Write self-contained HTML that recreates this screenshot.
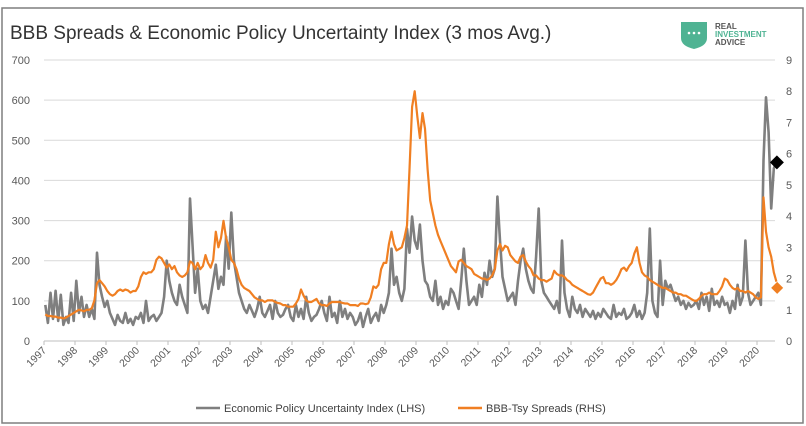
<!DOCTYPE html>
<html><head><meta charset="utf-8"><style>
body{margin:0;background:#fff;}
svg{display:block;font-family:"Liberation Sans",sans-serif;}
</style></head><body>
<svg id="chart" width="806" height="426" viewBox="0 0 806 426">
<rect x="2" y="8" width="801" height="415" fill="none" stroke="#7f7f7f" stroke-width="1.5"/>
<text x="10" y="39" font-size="19" fill="#333">BBB Spreads &amp; Economic Policy Uncertainty Index (3 mos Avg.)</text>
<g>
<path d="M681 22 L707 22 L707 38 Q707 46 694 49 Q681 46 681 38 Z" fill="#4fb393"/>
<circle cx="689" cy="33" r="1.3" fill="#fff"/><circle cx="694" cy="33" r="1.3" fill="#fff"/><circle cx="699" cy="33" r="1.3" fill="#fff"/>
<text x="715" y="29" font-size="8" font-weight="bold" fill="#555">REAL</text>
<text x="715" y="37" font-size="8" font-weight="bold" fill="#4fb393">INVESTMENT</text>
<text x="715" y="45" font-size="8" font-weight="bold" fill="#555">ADVICE</text>
</g>
<g id="grid"></g><g id="axes"></g><g id="series"></g>
<g>
<line x1="196" y1="408" x2="220" y2="408" stroke="#7f7f7f" stroke-width="2.5"/>
<text x="224" y="412" font-size="11" fill="#404040">Economic Policy Uncertainty Index (LHS)</text>
<line x1="458" y1="408" x2="482" y2="408" stroke="#f07f22" stroke-width="2.5"/>
<text x="486" y="412" font-size="11" fill="#404040">BBB-Tsy Spreads (RHS)</text>
</g>
</svg>
<script>
const startYear = 1997;
const yearLabels = ["1997","1998","1999","2000","2001","2002","2003","2004","2005","2006","2007","2008","2009","2010","2011","2012","2013","2014","2015","2016","2017","2018","2019","2020"];
const leftTicks = [0,100,200,300,400,500,600,700];
const rightTicks = [0,1,2,3,4,5,6,7,8,9];
const epu = [
90,45,120,55,125,50,115,40,60,45,120,50,
150,70,110,60,90,60,80,55,220,140,110,85,
100,70,55,40,65,50,45,70,45,55,40,60,
55,70,45,100,50,60,65,50,60,70,110,200,
150,120,100,90,140,110,90,70,355,240,120,180,
100,80,90,70,110,150,190,130,160,140,260,180,
320,200,160,120,100,80,70,90,75,60,80,110,
70,60,75,90,55,100,70,60,65,80,90,60,
50,90,60,80,55,110,70,50,60,65,80,100,
70,50,110,60,70,45,100,60,80,55,70,60,
40,50,70,35,60,80,45,60,70,50,90,70,
90,120,230,140,160,120,100,130,280,220,310,250,
230,290,200,150,140,110,100,150,90,110,80,100,
90,130,120,100,80,150,230,150,90,100,110,90,
140,110,170,140,200,160,180,360,250,160,130,100,
110,120,90,150,200,230,180,150,130,120,210,330,
150,120,110,100,90,80,100,70,250,120,80,60,
110,80,70,90,60,80,70,60,75,55,70,60,
80,70,60,55,90,60,70,65,80,55,60,70,
90,60,75,55,70,120,280,100,70,60,200,90,
150,130,140,120,100,110,90,100,80,95,85,90,
100,80,120,90,110,75,130,90,100,85,110,90,
95,70,100,80,140,90,110,250,120,90,100,110,
120,90,450,607,520,330,430,445];
const spread = [
0.85,0.8,0.8,0.78,0.78,0.75,0.75,0.72,0.75,0.8,0.85,0.9,
0.95,1.0,0.98,0.95,1.0,1.0,1.05,1.3,1.85,1.95,1.85,1.75,
1.6,1.5,1.45,1.5,1.6,1.65,1.6,1.65,1.62,1.55,1.6,1.6,
1.75,2.05,2.2,2.15,2.2,2.2,2.3,2.6,2.7,2.65,2.5,2.35,
2.45,2.3,2.4,2.2,2.1,2.05,2.1,2.2,2.55,2.5,2.3,2.5,
2.3,2.4,2.75,2.5,2.35,2.6,3.5,3.0,3.3,3.85,3.3,3.0,
2.6,2.5,2.3,2.0,1.8,1.7,1.65,1.6,1.5,1.4,1.35,1.3,
1.3,1.25,1.3,1.3,1.3,1.25,1.22,1.2,1.15,1.15,1.1,1.1,
1.1,1.2,1.35,1.65,1.45,1.3,1.25,1.25,1.3,1.35,1.2,1.15,
1.15,1.12,1.2,1.25,1.25,1.25,1.25,1.22,1.2,1.2,1.15,1.15,
1.15,1.12,1.2,1.2,1.18,1.2,1.4,1.75,1.7,1.8,2.3,2.5,
2.5,3.1,3.5,3.1,2.9,2.95,3.0,3.3,3.7,5.5,7.5,8.0,
7.2,6.5,7.3,6.8,5.5,4.5,4.1,3.7,3.4,3.2,3.0,2.8,
2.6,2.4,2.3,2.2,2.55,2.6,2.5,2.4,2.35,2.3,2.15,2.1,
2.05,2.0,2.0,1.95,2.0,2.1,2.3,2.9,3.1,2.9,3.05,3.0,
2.75,2.65,2.55,2.5,2.7,2.75,2.55,2.4,2.3,2.1,2.1,2.0,
1.95,1.95,1.9,1.95,2.0,2.25,2.15,2.1,2.1,2.05,1.95,1.9,
1.8,1.75,1.7,1.65,1.6,1.55,1.5,1.48,1.55,1.7,1.85,2.0,
2.05,1.85,1.85,1.8,1.85,1.95,2.1,2.3,2.35,2.25,2.4,2.5,
2.8,3.0,2.5,2.2,2.1,2.05,1.95,1.9,1.85,1.8,1.75,1.7,
1.7,1.65,1.6,1.55,1.55,1.5,1.5,1.45,1.45,1.4,1.35,1.3,
1.28,1.35,1.45,1.5,1.5,1.55,1.5,1.5,1.5,1.6,1.75,2.0,
1.95,1.8,1.7,1.65,1.7,1.6,1.6,1.55,1.6,1.55,1.5,1.4,
1.35,1.4,4.6,3.5,3.0,2.7,2.2,1.9];
const lastEpu = 445;
const lastSpread = 1.7;

const NS = "http://www.w3.org/2000/svg";
const X0 = 44, PX_YEAR = 31.0, Y0 = 341, PLOT_H = 281, XR = 775;
const xScale = t => X0 + (t - startYear) * PX_YEAR;
const yLeft = v => Y0 - v * PLOT_H / 700;
const yRight = v => Y0 - v * PLOT_H / 9;
function mk(tag, attrs, parent){const e=document.createElementNS(NS,tag);for(const k in attrs)e.setAttribute(k,attrs[k]);parent.appendChild(e);return e;}
const grid=document.getElementById('grid'), axes=document.getElementById('axes'), series=document.getElementById('series');

leftTicks.forEach(v=>{
  if(v>0){const g=mk('line',{x1:X0,x2:XR,y1:yLeft(v),y2:yLeft(v),stroke:'#d9d9d9','stroke-width':1},grid);
  
  }
  const t=mk('text',{x:30,y:yLeft(v)+4,'font-size':11,fill:'#595959','text-anchor':'end'},axes);
  t.textContent=v;
  
  
});
rightTicks.forEach(v=>{
  const t=mk('text',{x:789,y:yRight(v)+4,'font-size':11,fill:'#595959','text-anchor':'middle'},axes);
  t.textContent=v;
  
  
});
const base=mk('line',{x1:X0,x2:XR,y1:Y0,y2:Y0,stroke:'#bfbfbf','stroke-width':1},axes);


yearLabels.forEach((lab,i)=>{
  const x=xScale(startYear+i);
  mk('line',{x1:x,x2:x,y1:Y0,y2:Y0+4,stroke:'#bfbfbf'},axes);
  const t=mk('text',{x:x+3,y:Y0+10,'font-size':10.5,fill:'#595959','text-anchor':'end',transform:`rotate(-45 ${x+3} ${Y0+10})`},axes);
  t.textContent=lab;
  
  
});
function path(arr, yf){return arr.map((v,i)=>(i?'L':'M')+xScale(startYear+(i+0.5)/12).toFixed(1)+' '+yf(v).toFixed(1)).join(' ');}
const pe=mk('path',{d:path(epu,yLeft),fill:'none',stroke:'#7f7f7f','stroke-width':2.6,'stroke-linejoin':'round'},series);


const ps=mk('path',{d:path(spread,yRight),fill:'none',stroke:'#f07f22','stroke-width':2.2,'stroke-linejoin':'round'},series);


const lx=xScale(startYear+(epu.length-0.3)/12);
const d1=mk('path',{d:`M${lx} ${yLeft(lastEpu)-7} l7 7 l-7 7 l-7 -7 Z`,fill:'#000'},series);


const lx2=xScale(startYear+(spread.length-0.2)/12);
const d2=mk('path',{d:`M${lx2} ${yRight(lastSpread)-6} l6 6 l-6 6 l-6 -6 Z`,fill:'#f07f22'},series);


</script>
</body></html>
